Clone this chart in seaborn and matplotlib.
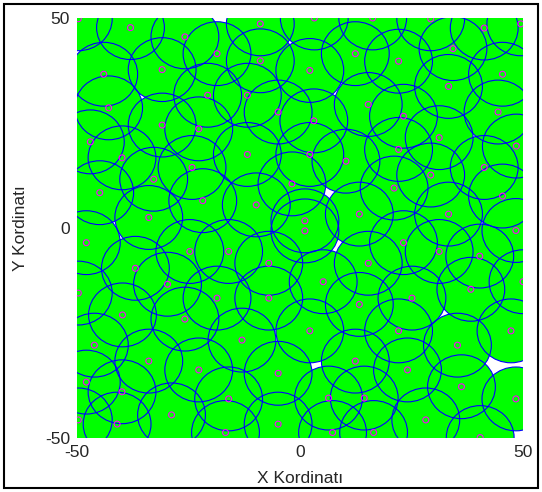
import matplotlib
matplotlib.use("Agg")
import matplotlib.pyplot as plt
import seaborn as sns
import pandas as pd
from matplotlib.patches import Circle, Rectangle

# sensor node positions
node_x = [-49.7, -38.0, -25.8, -44.0, -30.9, -42.9, -30.9, -47.0, -39.9,
          -8.9, -18.6, -8.9, -20.7, -11.8, -4.9, -22.7, -11.8,
          3.2, 16.3, 12.4, 22.1, 2.2, 15.3, 3.1, 23.2, 2.2, 22.1, 10.3,
          29.3, 41.3, 49.5, 34.3, 45.4, 33.3, 44.4, 31.2, 48.5,
          -32.8, -44.9, -33.9, -47.9, -24.2, -24.7, -36.9, -29.7, -49.7,
          -1.8, -21.8, -9.8, -16.0, -7.0, -18.6, -7.0,
          21.1, 13.3, 1.1, 1.1, 23.2, 15.3, 5.2, 25.1, 13.3,
          29.3, 41.3, 45.4, 33.3, 48.4, 31.2, 40.3, 50.0, 38.3,
          -39.8, -25.8, -46.1, -33.9, -47.9, -39.9, -28.8, -49.7, -41.0,
          -13.0, -22.7, -4.9, -16.0, -4.9, -16.7,
          2.2, 22.1, 12.4, 24.1, 6.4, 14.4, 7.3, 16.5,
          47.3, 35.3, 36.2, 48.4, 28.2, 40.4]
node_y = [49.8, 47.7, 45.5, 36.6, 37.7, 28.6, 24.5, 20.5, 16.7,
          48.6, 41.5, 39.8, 31.6, 31.6, 27.6, 23.6, 17.5,
          50.0, 50.0, 41.5, 39.7, 37.5, 29.4, 25.5, 26.6, 17.5, 18.7, 15.9,
          49.8, 47.6, 48.6, 42.7, 36.6, 33.7, 27.6, 21.5, 19.5,
          11.6, 8.4, 2.5, -3.5, 14.4, -5.6, -9.6, -13.4, -15.5,
          10.5, 6.5, 5.5, -5.6, -8.4, -16.7, -16.7,
          9.5, 3.3, 1.7, -0.7, -3.5, -8.4, -12.8, -16.7, -18.2,
          12.6, 14.4, 7.6, 3.3, -0.6, -5.6, -6.7, -12.8, -14.6,
          -20.7, -21.7, -27.9, -31.7, -36.7, -39.0, -44.5, -45.7, -46.7,
          -26.7, -33.8, -34.6, -40.7, -46.7, -48.7,
          -24.5, -24.5, -31.7, -33.8, -40.5, -40.5, -48.7, -48.7,
          -24.5, -27.9, -37.8, -40.7, -45.7, -49.9]
sensing_radius = 7.6

nodes = pd.DataFrame({"x": node_x, "y": node_y})

sns.set_style("white")
plt.rcParams["font.family"] = ["Liberation Sans", "DejaVu Sans"]
plt.rcParams["axes.unicode_minus"] = False

fig = plt.figure(figsize=(5.42, 4.92), dpi=100)
ax = fig.add_axes([0.142, 0.1098, 0.823, 0.8537])

# covered area (green) then the circle outlines (blue)
for x, y in zip(nodes["x"], nodes["y"]):
    ax.add_patch(Circle((x, y), sensing_radius, facecolor="#00ff00",
                        edgecolor="none", zorder=1))
for x, y in zip(nodes["x"], nodes["y"]):
    ax.add_patch(Circle((x, y), sensing_radius, facecolor="none",
                        edgecolor="#0000ff", linewidth=0.8, zorder=2))

sns.scatterplot(data=nodes, x="x", y="y", ax=ax, marker="o", s=18,
                facecolors="none", edgecolor="#ff00ff", linewidth=0.8,
                zorder=3)

ax.set_xlim(-50, 50)
ax.set_ylim(-50, 50)
ax.set_xticks([-50, 0, 50])
ax.set_yticks([-50, 0, 50])
ax.tick_params(length=0, labelsize=12.5, pad=5)
for s in ax.spines.values():
    s.set_visible(False)
ax.set_xlabel("X Kordinatı", fontsize=12.5, labelpad=8)
ax.set_ylabel("Y Kordinatı", fontsize=12.5, labelpad=12)

# frame around the whole figure
fig.patches.append(Rectangle((4 / 542, 4 / 492), 534 / 542, 484 / 492,
                             transform=fig.transFigure, fill=False,
                             edgecolor="black", linewidth=1.5))

fig.savefig("out.png", dpi=100)
